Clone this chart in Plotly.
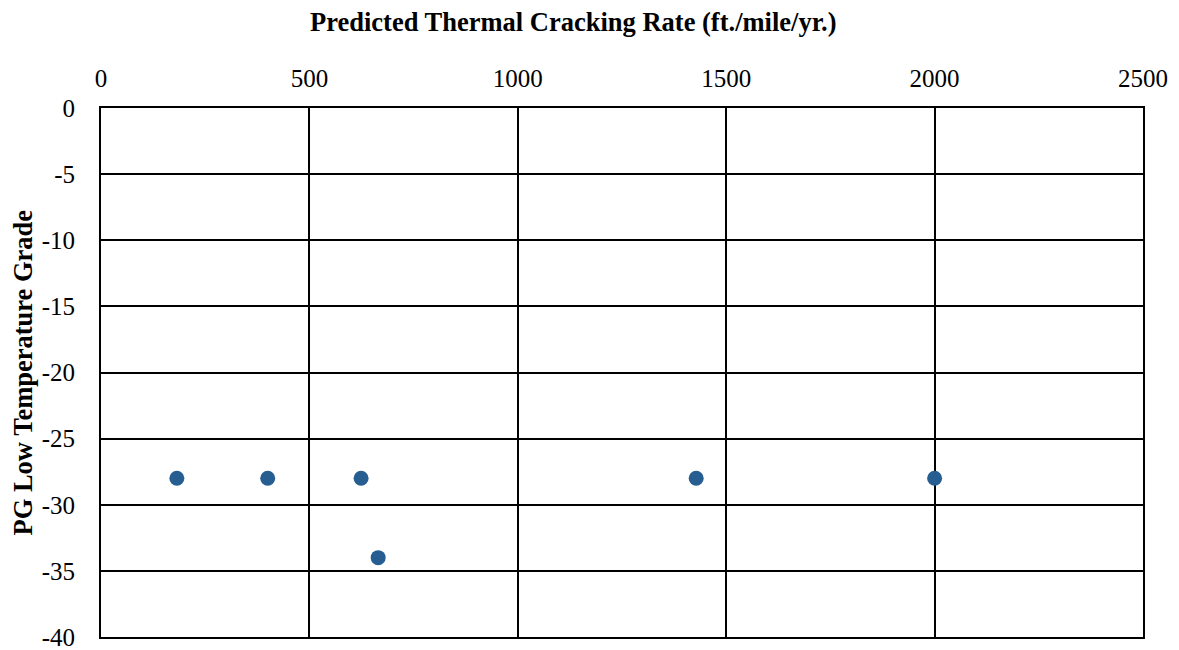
import plotly.graph_objects as go

# predicted thermal cracking rate vs PG low temperature grade
cracking_rate = [182, 400, 624, 665, 1428, 2000]
pg_low_grade = [-28, -28, -28, -34, -28, -28]

x_ticks = [0, 500, 1000, 1500, 2000, 2500]
y_ticks = [0, -5, -10, -15, -20, -25, -30, -35, -40]
y_tick_labels = ['0', '-5', '-10', '-15', '-20', '-25', '-30', '-35', '-40']

font_family = "Liberation Serif, Times New Roman, serif"

fig = go.Figure()

fig.add_trace(go.Scatter(
    x=cracking_rate,
    y=pg_low_grade,
    mode='markers',
    marker=dict(color='#265E92', size=15),
    showlegend=False,
    cliponaxis=False
))

# page body has an 8px margin, so margins are shifted to compensate
fig.update_layout(
    width=1179, height=650,
    margin=dict(l=93, r=44, t=100, b=21),
    paper_bgcolor='white',
    plot_bgcolor='white',
    font=dict(family=font_family, size=25, color='black'),
    xaxis=dict(
        side='top',
        range=[0, 2500],
        tickvals=x_ticks,
        showgrid=True, gridcolor='black', gridwidth=1.5,
        showline=True, linecolor='black', linewidth=2, mirror=True,
        zeroline=False, automargin=False,
        ticks='', ticklabelstandoff=9,
    ),
    yaxis=dict(
        range=[-40, 0],
        tickvals=y_ticks,
        ticktext=y_tick_labels,
        showgrid=True, gridcolor='black', gridwidth=1.5,
        showline=True, linecolor='black', linewidth=2, mirror=True,
        zeroline=False, automargin=False,
        ticks='', ticklabelstandoff=19,
    ),
    annotations=[
        dict(text='<b>Predicted Thermal Cracking Rate (ft./mile/yr.)</b>',
             xref='paper', yref='paper', x=0.453, y=1, yshift=86,
             showarrow=False, font=dict(size=26.5), xanchor='center', yanchor='middle'),
        dict(text='<b>PG Low Temperature Grade</b>',
             xref='paper', yref='paper', x=0, xshift=-79, y=0.5, textangle=-90,
             showarrow=False, font=dict(size=26.5), xanchor='center', yanchor='middle'),
    ]
)

fig.write_html("out.html")
